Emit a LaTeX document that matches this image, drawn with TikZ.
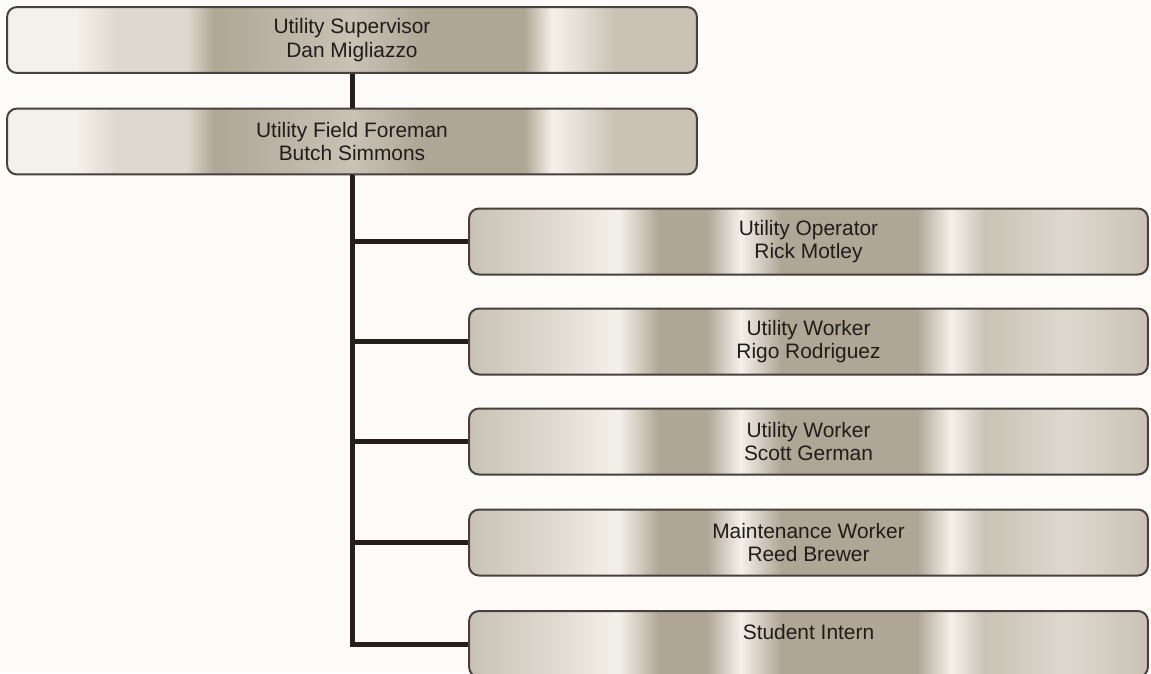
\documentclass[tikz,border=0pt]{standalone}
\usepackage{fontspec}
\setmainfont{Liberation Sans}
\usepackage{tikz}
\usetikzlibrary{calc,positioning}

% paper tones of the scanned boxes
\definecolor{paperbg}{RGB}{252,251,248}
\definecolor{paperW}{RGB}{244,241,234}
\definecolor{paperL}{RGB}{222,217,207}
\definecolor{paperM}{RGB}{201,194,181}
\definecolor{paperD}{RGB}{176,166,150}
\definecolor{inkline}{RGB}{38,30,26}
\definecolor{inktext}{RGB}{32,28,26}

% banded fills, path is mapped on 25bp--75bp
\pgfdeclarehorizontalshading{headband}{100bp}{color(0bp)=(paperW); color(25bp)=(paperW);
  color(30bp)=(paperW); color(33bp)=(paperL); color(38bp)=(paperL); color(40bp)=(paperD);
  color(50bp)=(paperM); color(55bp)=(paperD); color(62.5bp)=(paperD); color(64.5bp)=(paperW);
  color(67bp)=(paperL); color(69bp)=(paperM); color(75bp)=(paperM); color(100bp)=(paperM)}
\pgfdeclarehorizontalshading{staffband}{100bp}{color(0bp)=(paperM); color(25bp)=(paperM);
  color(31bp)=(paperL); color(36bp)=(paperW); color(39bp)=(paperD); color(42.5bp)=(paperD);
  color(45bp)=(paperW); color(48bp)=(paperD); color(58bp)=(paperD); color(60.5bp)=(paperW);
  color(63bp)=(paperM); color(69bp)=(paperL); color(75bp)=(paperM); color(100bp)=(paperM)}

\tikzset{
  % node styles (the two heads on the left, the staff on the right)
  % gebruik: \node[head] (naam) at (x,y) {Titel\\Naam};
  post/.style={draw=inkline!85,line width=0.04cm,rounded corners=0.2cm,minimum height=1.32cm,
    align=center,text=inktext,font=\fontsize{11.9pt}{13.4pt}\selectfont},
  head/.style={post,shading=headband,minimum width=13.8cm},
  staff/.style={post,shading=staffband,minimum width=13.58cm},
  % connector style
  link/.style={draw=inkline,line width=0.1cm},
}

\begin{document}
\begin{tikzpicture}[x=0.02cm,y=-0.02cm]
  \useasboundingbox (0,0) rectangle (1151,673);
  \clip (0,0) rectangle (1151,673);
  \fill[paperbg] (0,0) rectangle (1151,673);
  \node[head] (sup) at (352,40) {Utility Supervisor\\Dan Migliazzo};
  \node[head] (fore) at (352,141.5) {Utility Field Foreman\\Butch Simmons};
  \node[staff] (op) at (808.5,241.5) {Utility Operator\\Rick Motley};
  \node[staff] (rigo) at (808.5,341.5) {Utility Worker\\Rigo Rodriguez};
  \node[staff] (scott) at (808.5,441.5) {Utility Worker\\Scott German};
  \node[staff] (reed) at (808.5,542.5) {Maintenance Worker\\Reed Brewer};
  \node[staff] (intern) at (808.5,644) {Student Intern\\\mbox{}};
  \draw[link] (sup) -- (fore);
  \foreach \n in {op,rigo,scott,reed,intern}
    \draw[link] (fore.south) |- (\n.west);
\end{tikzpicture}
\end{document}
